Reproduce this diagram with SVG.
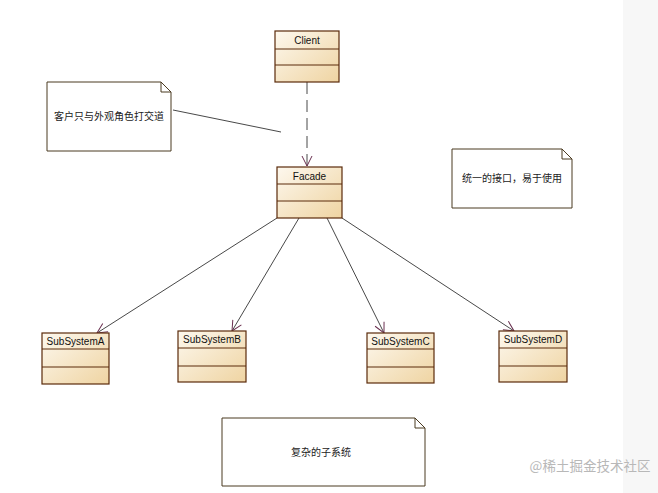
<svg xmlns="http://www.w3.org/2000/svg" width="658" height="493" viewBox="0 0 658 493">
<defs>
<linearGradient id="cls" x1="0" y1="0" x2="1" y2="1">
<stop offset="0" stop-color="#fdf8ee"/>
<stop offset="1" stop-color="#efd4a2"/>
</linearGradient>
<marker id="open" viewBox="0 0 12 12" refX="11" refY="6" markerWidth="12" markerHeight="12" markerUnits="userSpaceOnUse" orient="auto">
<path d="M1,1 L11,6 L1,11" fill="none" stroke="#6a3050" stroke-width="1"/>
</marker>
</defs>
<style>
.box{fill:url(#cls);stroke:#5a2a0a;stroke-width:1.2}
.div{stroke:#5a2a0a;stroke-width:1}
.name{font-family:"Liberation Sans",Arial,sans-serif;font-size:10px;fill:#111;text-anchor:middle}
.note{fill:#fff;stroke:#4a3a20;stroke-width:1}
.ntext{font-family:"Noto Sans CJK SC","Liberation Sans",sans-serif;font-size:10px;fill:#222;text-anchor:middle}
.conn{stroke:#333;stroke-width:0.9;fill:none}
</style>
<rect x="0" y="0" width="658" height="493" fill="#ffffff"/>
<rect x="623" y="0" width="35" height="493" fill="#f7f7f7"/>

<g id="connectors">
<line class="conn" x1="307" y1="82" x2="307" y2="166" stroke-dasharray="12,6" marker-end="url(#open)"/>
<line class="conn" x1="173" y1="110" x2="281" y2="132"/>
<line class="conn" x1="277" y1="218" x2="97" y2="333" marker-end="url(#open)"/>
<line class="conn" x1="299" y1="218" x2="232" y2="331" marker-end="url(#open)"/>
<line class="conn" x1="327" y1="218" x2="384" y2="333" marker-end="url(#open)"/>
<line class="conn" x1="342" y1="218" x2="514" y2="331" marker-end="url(#open)"/>
</g>

<g id="client">
<rect class="box" x="275" y="31" width="64" height="51"/>
<line class="div" x1="275" y1="49" x2="339" y2="49"/>
<line class="div" x1="275" y1="65" x2="339" y2="65"/>
<text class="name" x="307" y="44">Client</text>
</g>

<g id="facade">
<rect class="box" x="277" y="167" width="65" height="51"/>
<line class="div" x1="277" y1="184" x2="342" y2="184"/>
<line class="div" x1="277" y1="201" x2="342" y2="201"/>
<text class="name" x="309.5" y="180">Facade</text>
</g>

<g id="subA">
<rect class="box" x="42" y="333" width="67" height="51"/>
<line class="div" x1="42" y1="349" x2="109" y2="349"/>
<line class="div" x1="42" y1="367" x2="109" y2="367"/>
<text class="name" x="75.5" y="345">SubSystemA</text>
</g>

<g id="subB">
<rect class="box" x="178" y="331" width="68" height="51"/>
<line class="div" x1="178" y1="348" x2="246" y2="348"/>
<line class="div" x1="178" y1="366" x2="246" y2="366"/>
<text class="name" x="212" y="343">SubSystemB</text>
</g>

<g id="subC">
<rect class="box" x="367" y="333" width="67" height="50"/>
<line class="div" x1="367" y1="349" x2="434" y2="349"/>
<line class="div" x1="367" y1="367" x2="434" y2="367"/>
<text class="name" x="400.5" y="345">SubSystemC</text>
</g>

<g id="subD">
<rect class="box" x="499" y="331" width="68" height="51"/>
<line class="div" x1="499" y1="348" x2="567" y2="348"/>
<line class="div" x1="499" y1="366" x2="567" y2="366"/>
<text class="name" x="533" y="343">SubSystemD</text>
</g>

<g id="note1">
<path class="note" d="M47,82 H161 L171,92 V151 H47 Z M161,82 V92 H171"/>
<text class="ntext" x="109" y="120">客户只与外观角色打交道</text>
</g>

<g id="note2">
<path class="note" d="M452,149 H562 L572,159 V208 H452 Z M562,149 V159 H572"/>
<text class="ntext" x="512" y="182">统一的接口，易于使用</text>
</g>

<g id="note3">
<path class="note" d="M222,418 H415 L425,428 V486 H222 Z M415,418 V428 H425"/>
<text class="ntext" x="321" y="456">复杂的子系统</text>
</g>

<text x="590" y="471" font-family="Noto Sans CJK SC,serif" font-size="13.5" fill="#b8b8b8" text-anchor="middle">@稀土掘金技术社区</text>
</svg>
